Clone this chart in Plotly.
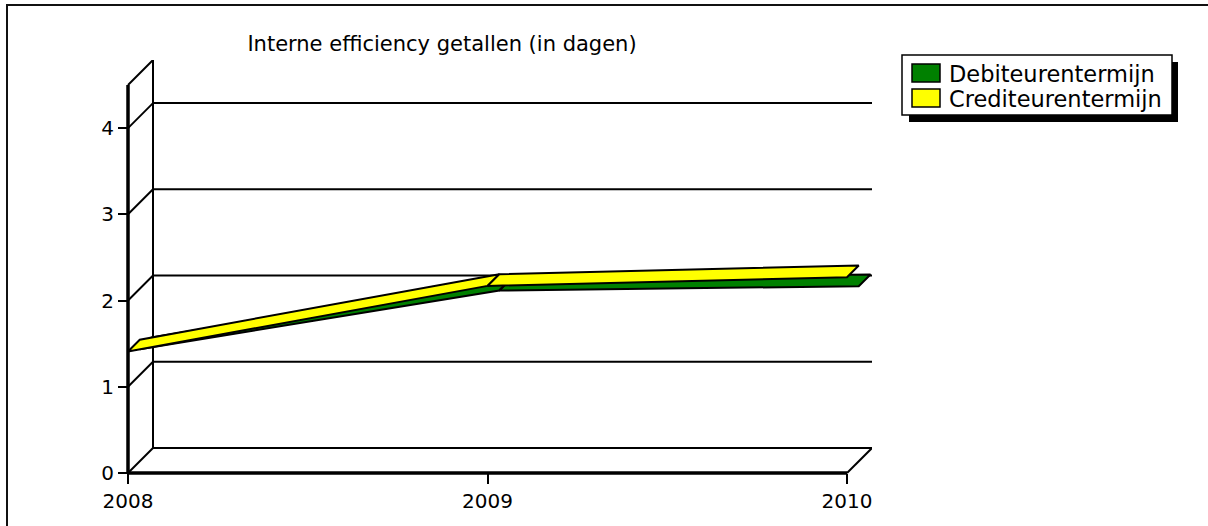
import plotly.graph_objects as go

# ---- data ----
years = [2008, 2009, 2010]
debiteuren = [1.30, 1.98, 2.03]
crediteuren = [1.41, 2.17, 2.27]
series_names = ["Debiteurentermijn", "Crediteurentermijn"]
series_colors = ["#008000", "#FFFF00"]
y_ticks = [0, 1, 2, 3, 4]
y_top = 4.5
title_text = "Interne efficiency getallen (in dagen)"

# ---- geometry (pixels) ----
W, H = 1208, 526
front_left, front_right, front_bottom, back_top = 128, 847, 473, 60
depth = 25
pad = 10
x0, x1 = years[0], years[-1]
sx = (front_right - front_left) / (x1 - x0)
sy = (front_bottom - depth - back_top) / y_top
ox, oy = depth / sx, depth / sy

ml = front_left - pad
mr = W - (front_right + depth)
mt = back_top
mb = H - (front_bottom + pad)
pw, ph = W - ml - mr, H - mt - mb

def px2paper_x(p):
    return (p - ml) / pw

def px2paper_y(p):
    return (H - mb - p) / ph

fig = go.Figure()

def ribbon(xs, ys, d0, d1):
    px, py = [], []
    for i in range(len(xs) - 1):
        a = [(xs[i] + d0 * ox, ys[i] + d0 * oy),
             (xs[i + 1] + d0 * ox, ys[i + 1] + d0 * oy),
             (xs[i + 1] + d1 * ox, ys[i + 1] + d1 * oy),
             (xs[i] + d1 * ox, ys[i] + d1 * oy),
             (xs[i] + d0 * ox, ys[i] + d0 * oy)]
        px += [p[0] for p in a] + [None]
        py += [p[1] for p in a] + [None]
    return px, py

# back series (green) first, then front series (yellow)
slices = [(0.47, 0.94), (0.0, 0.47)]
for name, vals, col, (d0, d1) in zip(series_names, [debiteuren, crediteuren], series_colors, slices):
    px, py = ribbon(years, vals, d0, d1)
    fig.add_trace(go.Scatter(x=px, y=py, mode="lines", fill="toself", fillcolor=col,
                             line=dict(color="black", width=2), name=name,
                             showlegend=False, hoverinfo="skip"))

shapes = []
def seg(xa, ya, xb, yb, w=2, layer="below"):
    shapes.append(dict(type="line", xref="x", yref="y", x0=xa, y0=ya, x1=xb, y1=yb,
                       line=dict(color="black", width=w), layer=layer))

# back wall grid lines and diagonals
for k in y_ticks:
    seg(x0, k, x0 + ox, k + oy)
    seg(x0 + ox, k + oy, x1 + ox, k + oy)
seg(x0, y_top, x0 + ox, y_top + oy)
seg(x0 + ox, oy, x0 + ox, y_top + oy)
seg(x1, 0, x1 + ox, oy)
# front axes (on top)
seg(x0, 0, x1, 0, w=3.5, layer="above")
seg(x0, 0, x0, y_top, w=3.5, layer="above")

# chart border
shapes.append(dict(type="rect", xref="paper", yref="paper",
                   x0=px2paper_x(7), x1=px2paper_x(1220),
                   y0=px2paper_y(540), y1=px2paper_y(5),
                   line=dict(color="#111111", width=2), layer="below"))

# custom legend: shadow, box, swatches, texts
shapes.append(dict(type="rect", xref="paper", yref="paper",
                   x0=px2paper_x(909), x1=px2paper_x(1178),
                   y0=px2paper_y(122), y1=px2paper_y(62),
                   fillcolor="black", line=dict(width=0), layer="above"))
shapes.append(dict(type="rect", xref="paper", yref="paper",
                   x0=px2paper_x(902), x1=px2paper_x(1172),
                   y0=px2paper_y(115), y1=px2paper_y(55),
                   fillcolor="white", line=dict(color="black", width=1.5), layer="above"))
annotations = []
leg_rows = [73, 98]
for name, col, cy in zip(series_names, series_colors, leg_rows):
    shapes.append(dict(type="rect", xref="paper", yref="paper",
                       x0=px2paper_x(912), x1=px2paper_x(940),
                       y0=px2paper_y(cy + 9), y1=px2paper_y(cy - 9),
                       fillcolor=col, line=dict(color="black", width=1.5), layer="above"))
    annotations.append(dict(text=name, xref="paper", yref="paper",
                            x=px2paper_x(947), y=px2paper_y(cy + 1),
                            xanchor="left", yanchor="middle", showarrow=False,
                            font=dict(size=22.5, family="DejaVu Sans", color="black")))

fig.update_layout(
    width=W, height=H,
    margin=dict(l=ml, r=mr, t=mt, b=mb, autoexpand=False),
    paper_bgcolor="white", plot_bgcolor="white",
    font=dict(family="DejaVu Sans", color="black", size=20),
    title=dict(text=title_text, x=442 / W, xanchor="center",
               y=1 - 44 / H, yanchor="middle", font=dict(size=21)),
    xaxis=dict(range=[x0 - pad / sx, x1 + ox], tickvals=years, ticktext=[str(y) for y in years],
               showgrid=False, zeroline=False, showline=False, ticks="outside",
               ticklen=10, tickwidth=1.5, tickcolor="black", fixedrange=True,
               anchor="free", position=pad / ph),
    yaxis=dict(range=[-pad / sy, y_top + oy], tickvals=y_ticks, showgrid=False, zeroline=False,
               showline=False, ticks="outside", ticklen=10, tickwidth=1.5,
               tickcolor="black", fixedrange=True, anchor="free", position=pad / pw),
    showlegend=False,
    shapes=shapes,
    annotations=annotations,
    hovermode=False,
)

fig.write_html("out.html", config={"displayModeBar": False},
               post_script="document.body.style.margin='0px';")
